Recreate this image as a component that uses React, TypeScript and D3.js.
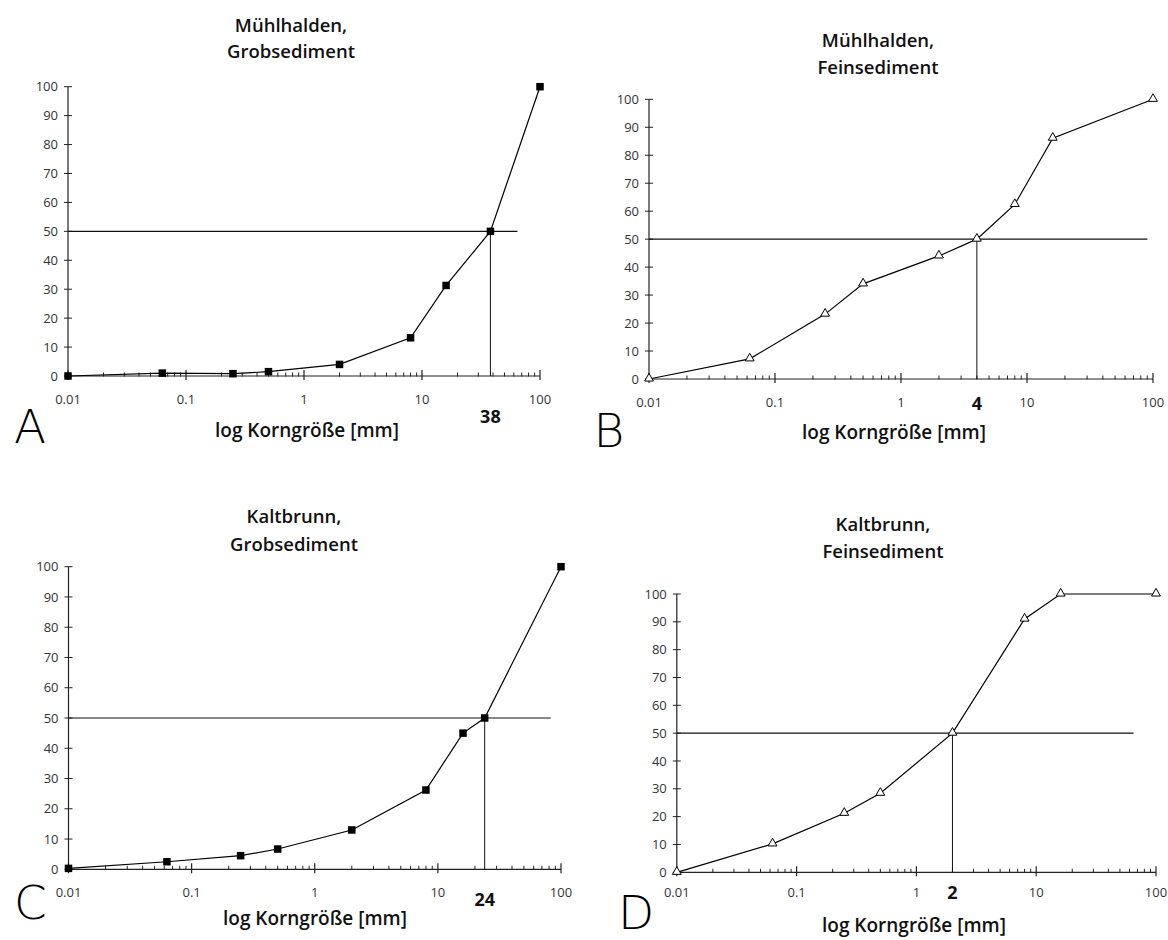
import React from "react";
import * as d3 from "d3";

// Cumulative grain-size curves (Summenkurven), percent passing vs. grain size in mm
const sizesA = [0.01, 0.063, 0.25, 0.5, 2, 8, 16, 38, 100];
const passA = [0, 1, 0.8, 1.5, 4, 13.2, 31.3, 50, 100];

const sizesB = [0.01, 0.063, 0.25, 0.5, 2, 4, 8, 16, 100];
const passB = [0, 7.2, 23.2, 34, 44, 50, 62.4, 86.1, 100];

const sizesC = [0.01, 0.063, 0.25, 0.5, 2, 8, 16, 24, 100];
const passC = [0.3, 2.5, 4.5, 6.7, 13, 26.2, 45, 50, 100];

const sizesD = [0.01, 0.063, 0.25, 0.5, 2, 8, 16, 100];
const passD = [0, 10.2, 21.2, 28.4, 50, 91, 100, 100];

// Median grain size (d50) for each sample
const medians = [38, 4, 24, 2];
const titles = [
  ["Mühlhalden,", "Grobsediment"],
  ["Mühlhalden,", "Feinsediment"],
  ["Kaltbrunn,", "Grobsediment"],
  ["Kaltbrunn,", "Feinsediment"],
];
const panelLetters = ["A", "B", "C", "D"];
const xTickLabels = ["0.01", "0.1", "1", "10", "100"];
const yTicks = [0, 10, 20, 30, 40, 50, 60, 70, 80, 90, 100];
const axisTitle = "log Korngröße [mm]";

const FONT = "'Open Sans', 'Noto Sans', 'DejaVu Sans', sans-serif";

type Layout = {
  x0: number; x1: number; yTop: number; yBottom: number; hEnd: number;
  titleX: number; titleY: [number, number]; tickY: number; medY: number;
  axX: number; axY: number; letX: number; letY: number; marker: "square" | "triangle";
};

const layouts: Layout[] = [
  { x0: 68, x1: 540, yTop: 86.7, yBottom: 376, hEnd: 517.4, titleX: 291, titleY: [32, 58], tickY: 404, medY: 417, axX: 307, axY: 437, letX: 30, letY: 443, marker: "square" },
  { x0: 649, x1: 1153, yTop: 99.3, yBottom: 379, hEnd: 1147.4, titleX: 878, titleY: [47, 74], tickY: 407, medY: 404, axX: 894, axY: 439, letX: 609, letY: 447, marker: "triangle" },
  { x0: 68.5, x1: 561, yTop: 566.7, yBottom: 869.3, hEnd: 550.7, titleX: 294, titleY: [523, 551], tickY: 897, medY: 900, axX: 315, axY: 925, letX: 30.5, letY: 919, marker: "square" },
  { x0: 676.8, x1: 1156, yTop: 594, yBottom: 872.3, hEnd: 1133.5, titleX: 883, titleY: [531, 558], tickY: 897, medY: 893, axX: 914, axY: 932, letX: 636, letY: 929, marker: "triangle" },
];

const series = [
  { sizes: sizesA, pass: passA },
  { sizes: sizesB, pass: passB },
  { sizes: sizesC, pass: passC },
  { sizes: sizesD, pass: passD },
];

function Panel({ idx }: { idx: number }) {
  const L = layouts[idx];
  const { sizes, pass } = series[idx];
  const x = d3.scaleLog().domain([0.01, 100]).range([L.x0, L.x1]);
  const y = d3.scaleLinear().domain([0, 100]).range([L.yBottom, L.yTop]);
  const pts: [number, number][] = sizes.map((s, i) => [s, pass[i]]);
  const line = d3.line<[number, number]>().x((d) => x(d[0])).y((d) => y(d[1]));
  const majors = [0.01, 0.1, 1, 10, 100];
  const minors: number[] = [];
  for (let e = -2; e < 2; e++) for (let k = 2; k <= 9; k++) minors.push(k * Math.pow(10, e));
  const med = medians[idx];

  return (
    <g>
      {/* title */}
      <text x={L.titleX} y={L.titleY[0]} textAnchor="middle" fontFamily={FONT} fontSize={18.5} fontWeight={600} fill="#111">{titles[idx][0]}</text>
      <text x={L.titleX} y={L.titleY[1]} textAnchor="middle" fontFamily={FONT} fontSize={18.5} fontWeight={600} fill="#111">{titles[idx][1]}</text>

      {/* y axis */}
      <line x1={L.x0} x2={L.x0} y1={y(0)} y2={y(100)} stroke="#222" strokeWidth={1.2} />
      {yTicks.map((t) => (
        <g key={"y" + t}>
          <line x1={L.x0 - 4} x2={L.x0 + 4} y1={y(t)} y2={y(t)} stroke="#222" strokeWidth={1} />
          <text x={L.x0 - 10} y={y(t)} dy="0.35em" textAnchor="end" fontFamily={FONT} fontSize={13} fill="#333">{t}</text>
        </g>
      ))}

      {/* x axis */}
      <line x1={L.x0} x2={L.x1} y1={y(0)} y2={y(0)} stroke="#222" strokeWidth={1.2} />
      {minors.map((m) => (
        <line key={"m" + m} x1={x(m)} x2={x(m)} y1={y(0) - 3.5} y2={y(0) + 0.5} stroke="#222" strokeWidth={1} />
      ))}
      {majors.map((m, i) => (
        <g key={"M" + m}>
          <line x1={x(m)} x2={x(m)} y1={y(0) - 6} y2={y(0) + 4} stroke="#222" strokeWidth={1.2} />
          <text x={x(m)} y={L.tickY} textAnchor="middle" fontFamily={FONT} fontSize={13} fill="#333">{xTickLabels[i]}</text>
        </g>
      ))}

      {/* d50 guide lines */}
      <line x1={L.x0} x2={L.hEnd} y1={y(50)} y2={y(50)} stroke="#111" strokeWidth={1.2} />
      <line x1={x(med)} x2={x(med)} y1={y(50)} y2={y(0)} stroke="#111" strokeWidth={1} />

      {/* curve */}
      <path d={line(pts) ?? ""} fill="none" stroke="#000" strokeWidth={1.2} />
      {pts.map((p, i) =>
        L.marker === "square" ? (
          <rect key={"p" + i} x={x(p[0]) - 3.75} y={y(p[1]) - 3.75} width={7.5} height={7.5} fill="#000" />
        ) : (
          <path
            key={"p" + i}
            d={d3.symbol(d3.symbolTriangle, 34)() ?? ""}
            transform={`translate(${x(p[0])},${y(p[1]) - 0.5})`}
            fill="#fff"
            stroke="#000"
            strokeWidth={1}
          />
        )
      )}

      {/* median value label */}
      <text x={x(med)} y={L.medY} dy="0.35em" textAnchor="middle" fontFamily={FONT} fontSize={18} fontWeight={700} fill="#111">{med}</text>

      {/* axis title */}
      <text x={L.axX} y={L.axY} textAnchor="middle" fontFamily={FONT} fontSize={19} fontWeight={600} fill="#111">{axisTitle}</text>

      {/* panel letter */}
      <text x={L.letX} y={L.letY} textAnchor="middle" fontFamily="'DejaVu Sans', sans-serif" fontSize={47} fontWeight={200} fill="#000">{panelLetters[idx]}</text>
    </g>
  );
}

export default function App() {
  return (
    <div style={{ position: "absolute", left: 0, top: 0 }}>
      <svg width={1168} height={940} style={{ display: "block", background: "#fff" }}>
        {[0, 1, 2, 3].map((i) => (
          <Panel key={i} idx={i} />
        ))}
      </svg>
    </div>
  );
}
